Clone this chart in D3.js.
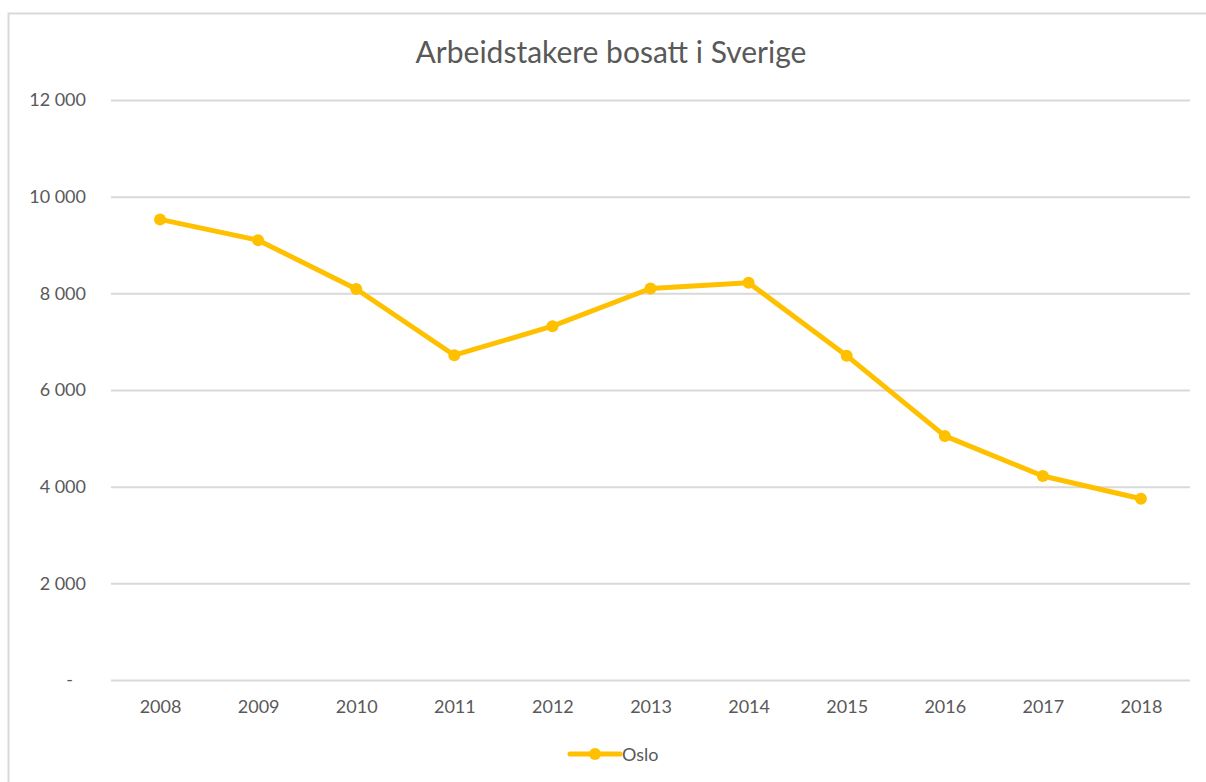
<!DOCTYPE html>
<html>
<head>
<meta charset="utf-8">
<script src="https://cdn.jsdelivr.net/npm/d3@7"></script>
<style>
  html,body{margin:0;padding:0;background:#fff;}
  svg{display:block;font-family:Lato,"Open Sans",sans-serif;}
</style>
</head>
<body>
<div id="chart"></div>
<script>
// Arbeidstakere bosatt i Sverige – Oslo
const years = ["2008","2009","2010","2011","2012","2013","2014","2015","2016","2017","2018"];
const oslo  = [9530, 9100, 8090, 6720, 7320, 8100, 8220, 6710, 5050, 4220, 3750];
const yTicks = [0, 2000, 4000, 6000, 8000, 10000, 12000];
const title = "Arbeidstakere bosatt i Sverige";
const seriesName = "Oslo";

const W=1206, H=782, m={l:111,r:16,t:100,b:102};
const color="#FFC000", txt="#595959", grid="#d9d9d9";
const font="Lato,'Open Sans',sans-serif";

const svg = d3.select("#chart").append("svg").attr("width",W).attr("height",H);

// ramme
svg.append("rect").attr("x",8.5).attr("y",13.5).attr("width",W).attr("height",H)
  .attr("fill","#fff").attr("stroke","#d9d9d9").attr("stroke-width",2);

const x = d3.scalePoint().domain(years).range([m.l, W-m.r]).padding(0.5);
const y = d3.scaleLinear().domain([0,12000]).range([H-m.b, m.t]);

const fmt = v => v===0 ? "-" : d3.format(",")(v).replace(/,/g," ");

// gridlinjer + y-akse
const ya = svg.append("g").attr("transform",`translate(${m.l},0)`)
  .call(d3.axisLeft(y).tickValues(yTicks).tickSize(-(W-m.r-m.l)).tickPadding(25).tickFormat(fmt));
ya.select(".domain").remove();
ya.selectAll(".tick line").attr("stroke",grid).attr("stroke-width",2);
ya.selectAll(".tick text").attr("fill",txt).attr("font-size",18).attr("font-family",font);
ya.selectAll(".tick").filter(d=>d===0).select("text").attr("dx",-13);

// x-akse
const xa = svg.append("g").attr("transform",`translate(0,${H-m.b})`)
  .call(d3.axisBottom(x).tickSize(0).tickPadding(20));
xa.select(".domain").remove();
xa.selectAll(".tick text").attr("fill",txt).attr("font-size",18).attr("font-family",font);

// tittel
svg.append("text").attr("x",611).attr("y",63).attr("text-anchor","middle")
  .attr("font-size",30).attr("fill",txt).text(title);

// linje
const data = years.map((yr,i)=>({yr, v:oslo[i]}));
svg.append("path").datum(data)
  .attr("fill","none").attr("stroke",color).attr("stroke-width",5).attr("stroke-linejoin","round")
  .attr("d", d3.line().x(d=>x(d.yr)).y(d=>y(d.v)));
svg.append("g").selectAll("circle").data(data).join("circle")
  .attr("cx",d=>x(d.yr)).attr("cy",d=>y(d.v)).attr("r",6).attr("fill",color);

// legende
const lg = svg.append("g").attr("transform","translate(570,754)");
lg.append("line").attr("x1",0).attr("x2",50).attr("stroke",color).attr("stroke-width",5).attr("stroke-linecap","round");
lg.append("circle").attr("cx",25).attr("r",6).attr("fill",color);
lg.append("text").attr("x",52).attr("y",6.5).attr("font-size",18).attr("fill",txt).text(seriesName);
</script>
</body>
</html>
